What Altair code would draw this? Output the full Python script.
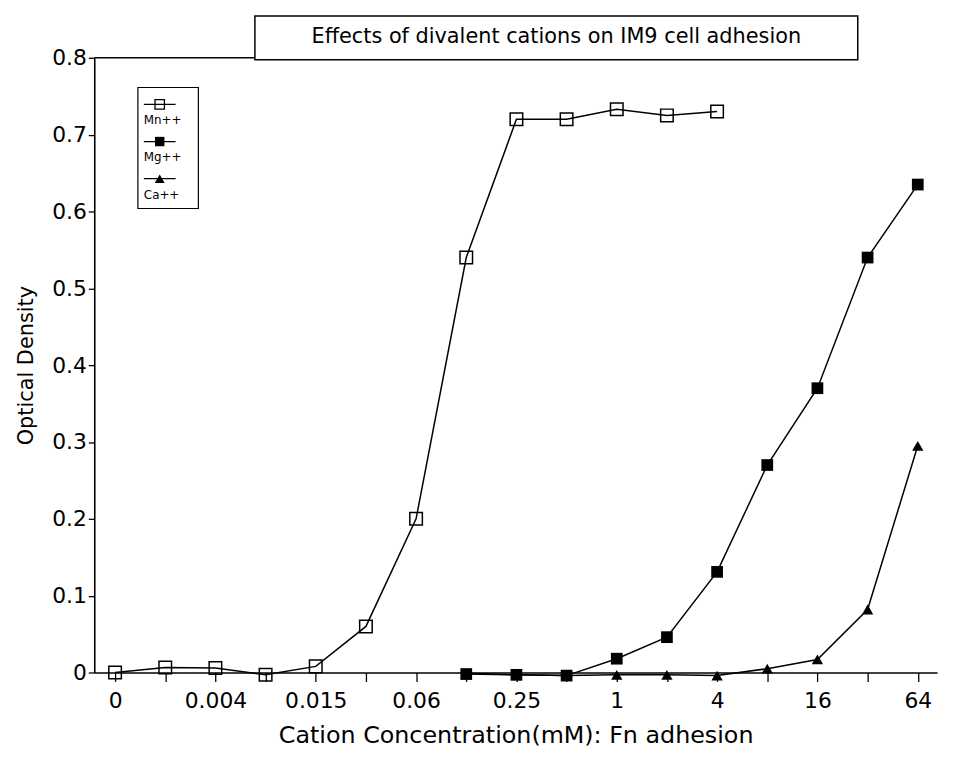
import altair as alt
import pandas as pd

# ---- data ----
tick_labels = ['0', '0.004', '0.015', '0.06', '0.25', '1', '4', '16', '64']
steps = list(range(17))  # dilution steps (factor 2), labels every other step
y_ticks = [0, 0.1, 0.2, 0.3, 0.4, 0.5, 0.6, 0.7, 0.8]

mn_steps = list(range(0, 13))
mn_od = [0.0, 0.0065, 0.006, -0.003, 0.008, 0.06, 0.2, 0.54, 0.72, 0.72, 0.733, 0.725, 0.73]
mg_steps = list(range(7, 17))
mg_od = [-0.002, -0.003, -0.004, 0.018, 0.046, 0.131, 0.27, 0.37, 0.54, 0.635]
ca_steps = list(range(7, 17))
ca_od = [-0.001, -0.003, -0.004, -0.003, -0.003, -0.004, 0.005, 0.017, 0.082, 0.295]

FONT = 'DejaVu Sans'

mn = pd.DataFrame({'step': mn_steps, 'od': mn_od})
mg = pd.DataFrame({'step': mg_steps, 'od': mg_od})
ca = pd.DataFrame({'step': ca_steps, 'od': ca_od})

label_arr = '[' + ','.join("'" + t + "'" for t in tick_labels) + ']'
x_label_expr = "datum.value % 2 == 0 ? " + label_arr + "[datum.value / 2] : ''"

x_enc = alt.X('step:Q',
              scale=alt.Scale(domain=[-0.415, 16.385], nice=False, zero=False),
              axis=alt.Axis(values=steps, grid=False,
                            labelExpr=x_label_expr,
                            tickSize=9, tickWidth=1.3, domainWidth=1.6,
                            labelFontSize=22, labelPadding=9, labelFont=FONT,
                            labelFlush=False, labelOverlap=False,
                            title='Cation Concentration(mM): Fn adhesion',
                            titleFont=FONT, titleFontSize=24, titleFontWeight='normal',
                            titlePadding=13))
y_enc = alt.Y('od:Q',
              scale=alt.Scale(domain=[0, 0.8], nice=False, zero=False),
              axis=alt.Axis(values=y_ticks, grid=False,
                            labelExpr="datum.value == 0 ? '0' : format(datum.value, '.1f')",
                            tickSize=6, tickWidth=1.3, domainWidth=1.6,
                            labelFontSize=22, labelPadding=2, labelFont=FONT,
                            labelFlush=False, labelOverlap=False,
                            title='Optical Density', titleFont=FONT, titleFontSize=21,
                            titleFontWeight='normal', titlePadding=15))

def series(df, shape, filled, size):
    base = alt.Chart(df).encode(x=x_enc, y=y_enc)
    line = base.mark_line(color='black', strokeWidth=1.5)
    pts = base.mark_point(shape=shape, filled=filled, color='black', size=size,
                          strokeWidth=1.5, opacity=1)
    return line + pts

mn_layer = series(mn, 'square', False, 160)
mg_layer = series(mg, 'square', True, 140)
ca_layer = series(ca, 'triangle-up', True, 130)

one = pd.DataFrame({'a': [0]})

# title box
title_box = alt.Chart(one).mark_rect(fill='white', stroke='black', strokeWidth=1.5).encode(
    x=alt.value(162), x2=alt.value(770), y=alt.value(-42), y2=alt.value(2))
title_text = alt.Chart(one).mark_text(font=FONT, fontSize=21, color='black',
                                      align='center', baseline='middle').encode(
    x=alt.value(466), y=alt.value(-21), text=alt.value('Effects of divalent cations on IM9 cell adhesion'))
top_line = alt.Chart(one).mark_rule(color='black', strokeWidth=1.4).encode(
    x=alt.value(0), x2=alt.value(162), y=alt.value(0))

# legend
legend_layers = [alt.Chart(one).mark_rect(fill='white', stroke='black', strokeWidth=1.2).encode(
    x=alt.value(44), x2=alt.value(105), y=alt.value(30), y2=alt.value(152))]
legend_items = [('Mn++', 'square', False, 90), ('Mg++', 'square', True, 90), ('Ca++', 'triangle-up', True, 100)]
for i, (name, shape, filled, size) in enumerate(legend_items):
    ys = 47 + i * 37.5
    legend_layers.append(alt.Chart(one).mark_rule(color='black', strokeWidth=1.3).encode(
        x=alt.value(50), x2=alt.value(82), y=alt.value(ys)))
    legend_layers.append(alt.Chart(one).mark_point(shape=shape, filled=filled, color='black',
                                                   size=size, strokeWidth=1.3, opacity=1).encode(
        x=alt.value(66), y=alt.value(ys)))
    legend_layers.append(alt.Chart(one).mark_text(font=FONT, fontSize=12, color='black',
                                                  align='left', baseline='middle').encode(
        x=alt.value(50), y=alt.value(ys + 16), text=alt.value(name)))

chart = alt.layer(mn_layer, mg_layer, ca_layer, top_line, title_box, title_text, *legend_layers).properties(
    width=850, height=620,
    padding={'left': 87, 'top': 47, 'right': 9, 'bottom': 80},
    autosize=alt.AutoSizeParams(type='none'),
    background='white'
).configure_view(stroke=None).configure_axis(
    domainColor='black', tickColor='black', labelColor='black', titleColor='black')

chart.save('out.html', embed_options={'renderer': 'svg', 'actions': False})
